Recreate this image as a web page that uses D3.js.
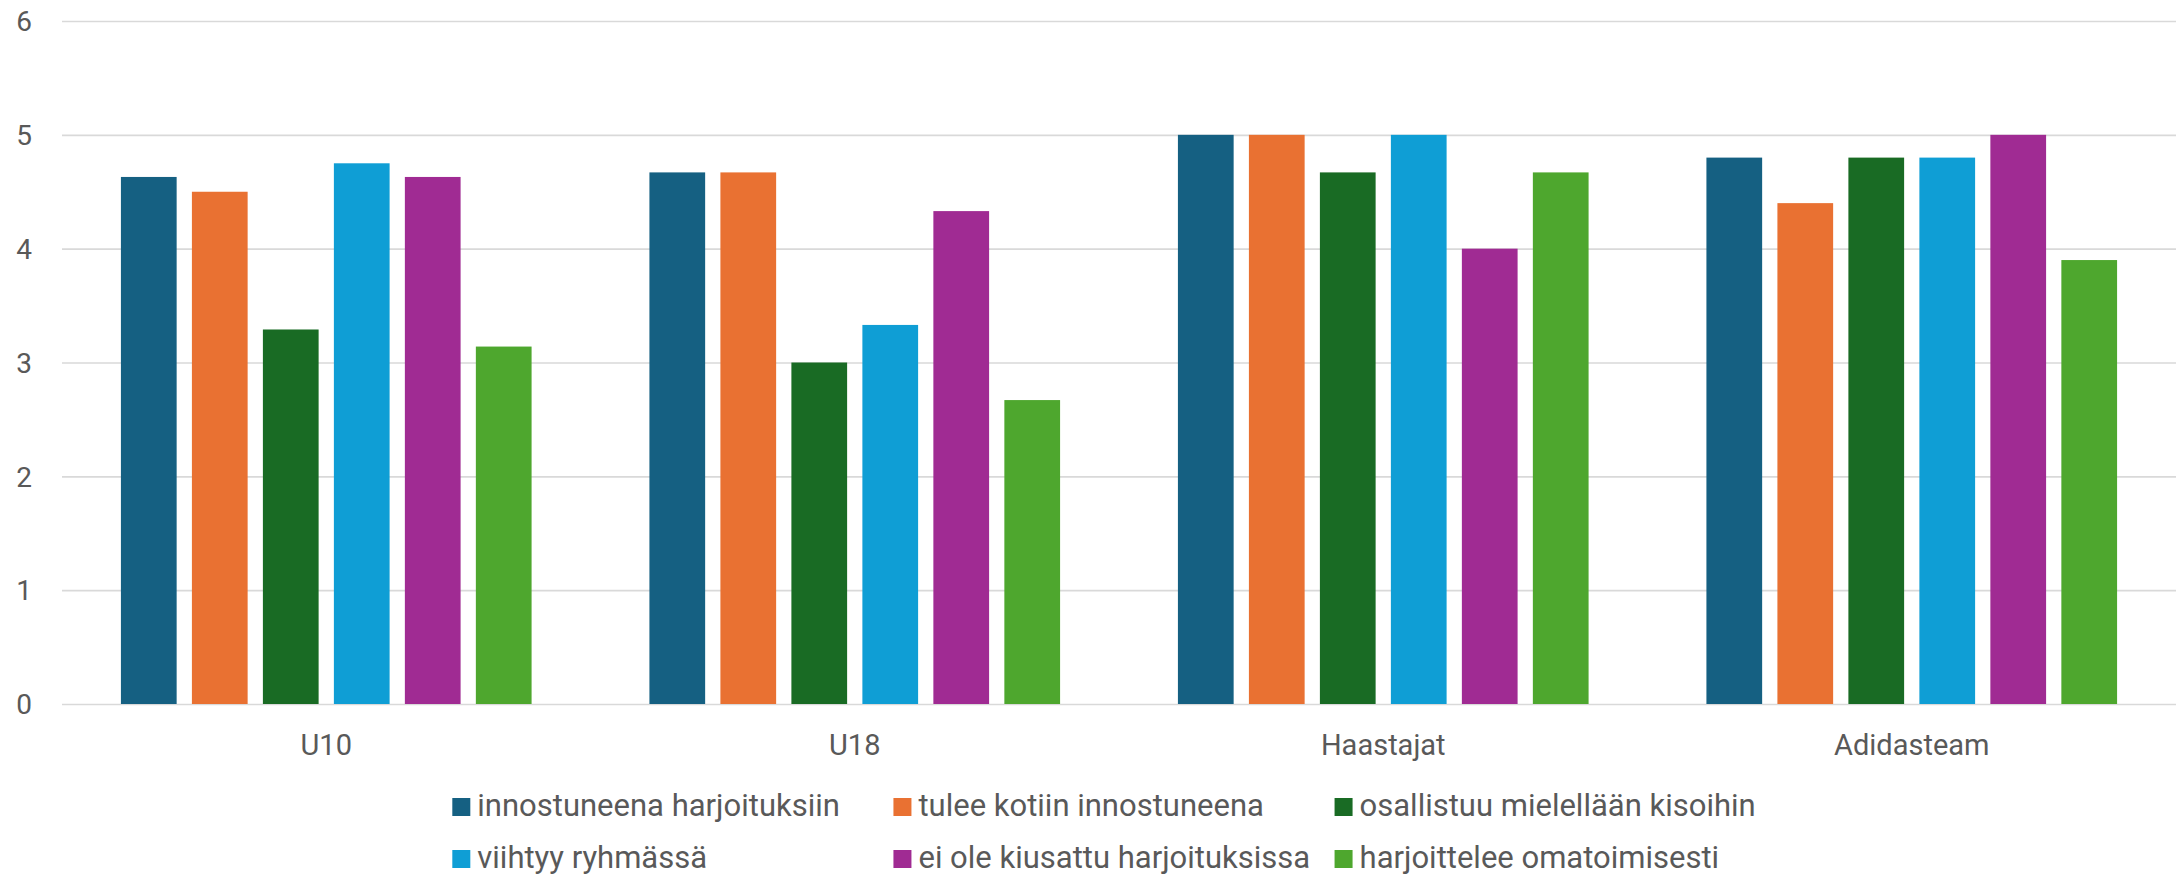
<!DOCTYPE html>
<html>
<head>
<meta charset="utf-8">
<script src="https://cdn.jsdelivr.net/npm/d3@7"></script>
<style>
  html, body { margin: 0; padding: 0; background: #ffffff; }
  svg { display: block; }
  text { font-family: Roboto, "Liberation Sans", Arial, sans-serif; fill: #595959; }
</style>
</head>
<body>
<svg id="chart" width="2183" height="878"></svg>
<script>
// Teams shown along the x axis
const categories = ["U10", "U18", "Haastajat", "Adidasteam"];

// Survey statements (one bar series each)
const seriesNames = [
  "innostuneena harjoituksiin",
  "tulee kotiin innostuneena",
  "osallistuu mielellään kisoihin",
  "viihtyy ryhmässä",
  "ei ole kiusattu harjoituksissa",
  "harjoittelee omatoimisesti"
];

// Average score per team, in the order of `categories`
const innostuneena = [4.63, 4.67, 5.00, 4.80];
const tuleeKotiin  = [4.50, 4.67, 5.00, 4.40];
const osallistuu   = [3.29, 3.00, 4.67, 4.80];
const viihtyy      = [4.75, 3.33, 5.00, 4.80];
const eiKiusattu   = [4.63, 4.33, 4.00, 5.00];
const omatoiminen  = [3.14, 2.67, 4.67, 3.90];

const yTicks = [0, 1, 2, 3, 4, 5, 6];

const colors = ["#156082", "#E97132", "#196B24", "#0F9ED5", "#A02B93", "#4EA72E"];

const seriesValues = [innostuneena, tuleeKotiin, osallistuu, viihtyy, eiKiusattu, omatoiminen];

const svg = d3.select("#chart");
const margin = { left: 62, right: 7, top: 21, bottom: 174 };
const W = 2183, H = 878;
const plotL = margin.left, plotR = W - margin.right;
const plotT = margin.top, plotB = H - margin.bottom;

const y = d3.scaleLinear().domain([0, 6]).range([plotB, plotT]);
const x0 = d3.scaleBand().domain(categories).range([plotL, plotR]).padding(0);
const x1 = d3.scaleBand().domain(seriesNames).range([0, x0.bandwidth()])
  .paddingInner(0.215).paddingOuter(0.83);
const color = d3.scaleOrdinal().domain(seriesNames).range(colors);

// Horizontal gridlines with tick labels
const yAxis = d3.axisLeft(y).tickValues(yTicks).tickSize(-(plotR - plotL)).tickPadding(30).tickFormat(d3.format("d"));
const gy = svg.append("g").attr("transform", `translate(${plotL},0)`).call(yAxis);
gy.select(".domain").remove();
gy.selectAll(".tick line").attr("stroke", "#d9d9d9").attr("stroke-width", 1.6);
gy.selectAll(".tick text").attr("font-size", 28).attr("fill", "#595959").attr("dy", "0.35em");

// Bars
const rows = categories.map((c, i) => ({ cat: c, vals: seriesNames.map((s, j) => ({ s, v: seriesValues[j][i] })) }));
const groups = svg.append("g").selectAll("g").data(rows).join("g")
  .attr("transform", d => `translate(${x0(d.cat)},0)`);
groups.selectAll("rect").data(d => d.vals).join("rect")
  .attr("x", d => x1(d.s))
  .attr("width", x1.bandwidth())
  .attr("y", d => y(d.v))
  .attr("height", d => y(0) - y(d.v))
  .attr("fill", d => color(d.s));

// Category labels
const xAxis = d3.axisBottom(x0).tickSize(0).tickPadding(30);
const gx = svg.append("g").attr("transform", `translate(0,${plotB})`).call(xAxis);
gx.select(".domain").remove();
gx.selectAll(".tick text").attr("font-size", 29).attr("fill", "#595959").attr("dy", "0.71em");

// Legend: three columns, two rows, centred under the plot; swatch sits on the text baseline
const legend = svg.append("g");
const items = legend.selectAll("g").data(seriesNames).join("g");
items.append("rect").attr("width", 18).attr("height", 18).attr("y", -18).attr("fill", d => color(d));
items.append("text").attr("x", 25).attr("font-size", 31).text(d => d);
let maxW = 0;
items.selectAll("text").each(function () { maxW = Math.max(maxW, this.getComputedTextLength()); });
const pitch = 25 + maxW + 20;
const lx = (plotL + plotR) / 2 - 1.5 * pitch - 5;
const baselines = [816, 868];
items.attr("transform", (d, i) => `translate(${lx + (i % 3) * pitch},${baselines[Math.floor(i / 3)]})`);
</script>
</body>
</html>
